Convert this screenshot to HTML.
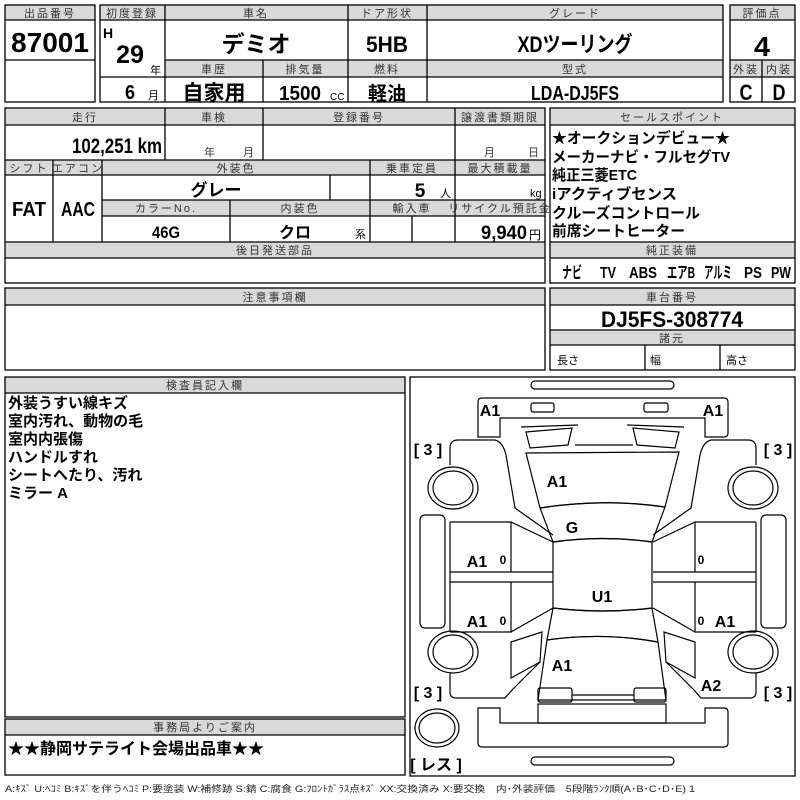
<!DOCTYPE html>
<html><head><meta charset="utf-8"><style>
html,body{margin:0;padding:0;background:#fff}
svg{display:block}
text{font-family:"Liberation Sans","Noto Sans CJK JP",sans-serif;}
.h{font-size:11px;fill:#333;text-anchor:middle;letter-spacing:2px}
.v{font-weight:bold;text-anchor:middle}
.s{font-size:15px;font-weight:bold}
.c{font-size:16px;font-weight:bold;text-anchor:middle}
</style></head><body>
<svg width="800" height="800" viewBox="0 0 800 800" xmlns="http://www.w3.org/2000/svg">
<g fill="#d9d9d9" stroke="none">
<rect x="5" y="5" width="90" height="15"/><rect x="100" y="5" width="623" height="15"/><rect x="730" y="5" width="65" height="15"/>
<rect x="165" y="60" width="558" height="17"/><rect x="730" y="60" width="65" height="17"/>
<rect x="5" y="108" width="540" height="17"/><rect x="5" y="160" width="540" height="15"/><rect x="102" y="200" width="443" height="16"/><rect x="5" y="242" width="540" height="16"/>
<rect x="550" y="108" width="245" height="17"/><rect x="550" y="242" width="245" height="16"/>
<rect x="5" y="288" width="540" height="17"/><rect x="550" y="288" width="245" height="17"/><rect x="550" y="330" width="245" height="15"/>
<rect x="5" y="377" width="400" height="16"/><rect x="5" y="719" width="400" height="16"/>
</g>
<g fill="none" stroke="#000" stroke-width="1.3">
<rect x="5" y="5" width="90" height="97"/><line x1="5" y1="20" x2="95" y2="20"/><line x1="5" y1="60" x2="95" y2="60"/>
<rect x="100" y="5" width="623" height="97"/><line x1="100" y1="20" x2="723" y2="20"/>
<line x1="165" y1="5" x2="165" y2="102"/><line x1="348" y1="5" x2="348" y2="102"/><line x1="427" y1="5" x2="427" y2="102"/>
<line x1="165" y1="60" x2="723" y2="60"/><line x1="165" y1="77" x2="723" y2="77"/><line x1="100" y1="77" x2="165" y2="77"/>
<line x1="263" y1="60" x2="263" y2="102"/>
<rect x="730" y="5" width="65" height="97"/><line x1="730" y1="20" x2="795" y2="20"/><line x1="730" y1="60" x2="795" y2="60"/><line x1="730" y1="77" x2="795" y2="77"/><line x1="762" y1="60" x2="762" y2="102"/>
<rect x="5" y="108" width="540" height="175"/>
<line x1="5" y1="125" x2="545" y2="125"/><line x1="5" y1="160" x2="545" y2="160"/><line x1="5" y1="175" x2="545" y2="175"/>
<line x1="102" y1="200" x2="545" y2="200"/><line x1="102" y1="216" x2="545" y2="216"/><line x1="5" y1="242" x2="545" y2="242"/><line x1="5" y1="258" x2="545" y2="258"/>
<line x1="165" y1="108" x2="165" y2="160"/><line x1="263" y1="108" x2="263" y2="160"/><line x1="455" y1="108" x2="455" y2="242"/>
<line x1="53" y1="160" x2="53" y2="242"/><line x1="102" y1="160" x2="102" y2="242"/><line x1="370" y1="160" x2="370" y2="242"/>
<line x1="330" y1="175" x2="330" y2="200"/><line x1="230" y1="200" x2="230" y2="242"/><line x1="412" y1="216" x2="412" y2="242"/>
<rect x="550" y="108" width="245" height="175"/><line x1="550" y1="125" x2="795" y2="125"/><line x1="550" y1="242" x2="795" y2="242"/><line x1="550" y1="258" x2="795" y2="258"/>
<rect x="5" y="288" width="540" height="82"/><line x1="5" y1="305" x2="545" y2="305"/>
<rect x="550" y="288" width="245" height="82"/><line x1="550" y1="305" x2="795" y2="305"/><line x1="550" y1="330" x2="795" y2="330"/><line x1="550" y1="345" x2="795" y2="345"/>
<line x1="645" y1="345" x2="645" y2="370"/><line x1="720" y1="345" x2="720" y2="370"/>
<rect x="5" y="377" width="400" height="340"/><line x1="5" y1="393" x2="405" y2="393"/>
<rect x="5" y="719" width="400" height="56"/><line x1="5" y1="735" x2="405" y2="735"/>
<rect x="410" y="377" width="385" height="399"/>
</g>
<!-- headers -->
<text class="h" x="50" y="17">出品番号</text><text class="h" x="132" y="17" letter-spacing="0">初度登録</text>
<text class="h" x="256" y="17">車名</text><text class="h" x="387" y="17" letter-spacing="0">ドア形状</text><text class="h" x="575" y="17" letter-spacing="6">グレード</text><text class="h" x="762" y="17" letter-spacing="0">評価点</text>
<text class="h" x="214" y="73">車歴</text><text class="h" x="305" y="73">排気量</text><text class="h" x="387" y="73">燃料</text><text class="h" x="575" y="73">型式</text>
<text class="h" x="746" y="73" letter-spacing="0">外装</text><text class="h" x="779" y="73" letter-spacing="0">内装</text>
<text class="h" x="85" y="121">走行</text><text class="h" x="214" y="121">車検</text><text class="h" x="359" y="121">登録番号</text><text class="h" x="500" y="121" letter-spacing="0" font-size="10">譲渡書類期限</text>
<text class="h" x="29" y="172" letter-spacing="0" font-size="10">シフト</text><text class="h" x="78" y="172" letter-spacing="0" font-size="10">エアコン</text><text class="h" x="236" y="172">外装色</text><text class="h" x="412" y="172" letter-spacing="0">乗車定員</text><text class="h" x="500" y="172" letter-spacing="0" font-size="10">最大積載量</text>
<text class="h" x="166" y="212" letter-spacing="4">カラーNo.</text><text class="h" x="300" y="212">内装色</text><text class="h" x="412" y="212">輸入車</text><text class="h" x="500" y="212" letter-spacing="0" font-size="10">リサイクル預託金</text>
<text class="h" x="275" y="254">後日発送部品</text>
<text class="h" x="672" y="121" letter-spacing="5">セールスポイント</text><text class="h" x="672" y="254">純正装備</text>
<text class="h" x="275" y="301">注意事項欄</text><text class="h" x="672" y="301">車台番号</text><text class="h" x="672" y="342">諸元</text>
<text class="h" x="205" y="389">検査員記入欄</text><text class="h" x="205" y="731">事務局よりご案内</text>
<!-- values -->
<text class="v" x="50" y="52" font-size="28" textLength="78" lengthAdjust="spacingAndGlyphs">87001</text>
<text class="v" x="108" y="38" font-size="14">H</text><text class="v" x="130" y="63" font-size="25" textLength="28" lengthAdjust="spacingAndGlyphs">29</text><text x="150" y="74" font-size="11">年</text>
<text class="v" x="130" y="99" font-size="20" textLength="10" lengthAdjust="spacingAndGlyphs">6</text><text x="148" y="99" font-size="11">月</text>
<text class="v" x="256" y="52" font-size="23">デミオ</text><text class="v" x="387" y="52" font-size="22" textLength="42" lengthAdjust="spacingAndGlyphs">5HB</text><text class="v" x="575" y="52" font-size="22" textLength="115" lengthAdjust="spacingAndGlyphs">XDツーリング</text>
<text class="v" x="762" y="56" font-size="28" textLength="16" lengthAdjust="spacingAndGlyphs">4</text><text class="v" x="746" y="100" font-size="22" textLength="13" lengthAdjust="spacingAndGlyphs">C</text><text class="v" x="779" y="100" font-size="22" textLength="13" lengthAdjust="spacingAndGlyphs">D</text>
<text class="v" x="214" y="100" font-size="21">自家用</text><text class="v" x="300" y="100" font-size="20" textLength="42" lengthAdjust="spacingAndGlyphs">1500</text><text x="330" y="100" font-size="10">CC</text>
<text class="v" x="387" y="100" font-size="19">軽油</text><text class="v" x="575" y="100" font-size="20" textLength="88" lengthAdjust="spacingAndGlyphs">LDA-DJ5FS</text>
<text class="v" x="72" y="153" font-size="21" style="text-anchor:start" textLength="90" lengthAdjust="spacingAndGlyphs">102,251 km</text>
<text x="204" y="156" font-size="11" fill="#333">年</text><text x="243" y="156" font-size="11" fill="#333">月</text>
<text x="484" y="156" font-size="11" fill="#333">月</text><text x="528" y="156" font-size="11" fill="#333">日</text>
<text class="v" x="29" y="216" font-size="20" textLength="34" lengthAdjust="spacingAndGlyphs">FAT</text><text class="v" x="78" y="216" font-size="20" textLength="34" lengthAdjust="spacingAndGlyphs">AAC</text>
<text class="v" x="216" y="196" font-size="17">グレー</text><text class="v" x="420" y="197" font-size="19">5</text><text x="440" y="197" font-size="11">人</text><text x="530" y="197" font-size="11">kg</text>
<text class="v" x="166" y="238" font-size="17" textLength="28" lengthAdjust="spacingAndGlyphs">46G</text><text class="v" x="295" y="238" font-size="16">クロ</text><text x="355" y="238" font-size="11">系</text>
<text class="v" x="481" y="239" font-size="19" style="text-anchor:start" textLength="46" lengthAdjust="spacingAndGlyphs">9,940</text><text x="529" y="239" font-size="12">円</text>
<text x="552" y="143" class="s" textLength="178" lengthAdjust="spacingAndGlyphs">★オークションデビュー★</text><text x="552" y="162" class="s" textLength="178" lengthAdjust="spacingAndGlyphs">メーカーナビ・フルセグTV</text><text x="552" y="180" class="s" textLength="85" lengthAdjust="spacingAndGlyphs">純正三菱ETC</text><text x="552" y="199" class="s" textLength="125" lengthAdjust="spacingAndGlyphs">iアクティブセンス</text><text x="552" y="218" class="s" textLength="148" lengthAdjust="spacingAndGlyphs">クルーズコントロール</text><text x="552" y="236" class="s" textLength="133" lengthAdjust="spacingAndGlyphs">前席シートヒーター</text>
<g class="v" font-size="16"><text class="v" x="572" y="278" textLength="20" lengthAdjust="spacingAndGlyphs">ナビ</text><text class="v" x="608" y="278" textLength="16" lengthAdjust="spacingAndGlyphs">TV</text><text class="v" x="643" y="278" textLength="28" lengthAdjust="spacingAndGlyphs">ABS</text><text class="v" x="681" y="278" textLength="28" lengthAdjust="spacingAndGlyphs">エアB</text><text class="v" x="718" y="278" textLength="28" lengthAdjust="spacingAndGlyphs">アルミ</text><text class="v" x="753" y="278" textLength="18" lengthAdjust="spacingAndGlyphs">PS</text><text class="v" x="781" y="278" textLength="20" lengthAdjust="spacingAndGlyphs">PW</text></g>
<text class="v" x="672" y="327" font-size="22" textLength="142" lengthAdjust="spacingAndGlyphs">DJ5FS-308774</text>
<text x="557" y="364" font-size="11">長さ</text><text x="650" y="364" font-size="11">幅</text><text x="726" y="364" font-size="11">高さ</text>
<g><text x="8" y="408" class="s">外装うすい線キズ</text><text x="8" y="426" class="s">室内汚れ、動物の毛</text><text x="8" y="444" class="s">室内内張傷</text><text x="8" y="462" class="s">ハンドルすれ</text><text x="8" y="480" class="s">シートへたり、汚れ</text><text x="8" y="498" class="s">ミラー A</text></g>
<text x="8" y="754" font-size="16" font-weight="bold">★★静岡サテライト会場出品車★★</text>
<text x="5" y="792" font-size="9" fill="#222" textLength="690" lengthAdjust="spacingAndGlyphs">A:ｷｽﾞ U:ﾍｺﾐ B:ｷｽﾞを伴うﾍｺﾐ P:要塗装 W:補修跡 S:錆 C:腐食 G:ﾌﾛﾝﾄｶﾞﾗｽ点ｷｽﾞ XX:交換済み X:要交換　内･外装評価　5段階ﾗﾝｸ順(A･B･C･D･E) 1</text>
<!-- car diagram -->
<g fill="none" stroke="#000" stroke-width="1.2">
<rect x="531" y="381" width="143" height="8" rx="4"/><rect x="531" y="757" width="143" height="8" rx="4"/>
<path d="M478,437 L478,402 Q478,398 482,398 L724,398 Q728,398 728,402 L728,433 Q728,437 724,437 L705,437 L705,418 L500,418 L500,437 Z"/>
<path d="M478,708 L478,743 Q478,747 482,747 L724,747 Q728,747 728,743 L728,712 Q728,708 724,708 L705,708 L705,723 L500,723 L500,708 Z"/>
<rect x="531" y="403" width="23" height="9" rx="2"/><rect x="644" y="403" width="24" height="9" rx="2"/>
<polygon points="526,432 572,428 568,445 530,448"/><polygon points="633,428 679,432 675,448 637,445"/>
<line x1="521" y1="427" x2="578" y2="425"/><line x1="627" y1="425" x2="684" y2="427"/><line x1="575" y1="445" x2="633" y2="445"/>
<path d="M526,453 L679,452 L665,507 Q603,498 540,508 Z"/>
<path d="M540,508 Q603,498 665,507 L652,542 Q603,535 553,542 Z"/>
<path d="M553,542 Q603,535 652,542 L652,608 Q603,614 553,608 Z"/>
<path d="M553,608 Q603,614 652,608 L658,642 Q603,632 547,640 Z"/>
<path d="M547,640 Q603,632 658,642 L666,700 L538,700 Z"/>
<rect x="538" y="688" width="34" height="14" rx="2"/><rect x="634" y="688" width="32" height="14" rx="2"/>
<line x1="572" y1="695" x2="634" y2="695"/><rect x="538" y="704" width="128" height="19"/>
<g id="side">
<path d="M450,465 L450,448 Q450,440 458,440 L495,440 Q503,442 506,455 L515,508 L553,535"/>
<ellipse cx="453" cy="488" rx="25" ry="21"/><ellipse cx="453" cy="488" rx="20" ry="17"/>
<ellipse cx="453" cy="652" rx="25" ry="21"/><ellipse cx="453" cy="652" rx="20" ry="17"/>
<rect x="420" y="515" width="25" height="113" rx="5"/>
<path d="M450,522 L511,522 L553,542 M450,522 L450,632 M511,522 L511,572 M450,572 L553,572 M450,582 L553,582 M511,582 L511,632 L450,632 M511,632 L553,608"/>
<polygon points="511,642 542,632 540,662 511,678"/>
<path d="M450,673 L450,692 Q450,698 456,698 L505,698 L512,690 L540,662"/>
</g>
<use href="#side" transform="translate(1206,0) scale(-1,1)"/>
<ellipse cx="437" cy="728" rx="22" ry="19"/><ellipse cx="437" cy="728" rx="18" ry="15"/>
</g>
<g class="c">
<text class="c" x="490" y="416">A1</text><text class="c" x="713" y="416">A1</text>
<text class="c" x="428" y="455" font-weight="normal">[ 3 ]</text><text class="c" x="778" y="455" font-weight="normal">[ 3 ]</text>
<text class="c" x="428" y="698" font-weight="normal">[ 3 ]</text><text class="c" x="778" y="698" font-weight="normal">[ 3 ]</text>
<text class="c" x="557" y="487">A1</text><text class="c" x="572" y="533">G</text>
<text class="c" x="477" y="567">A1</text><text class="c" x="477" y="627">A1</text><text class="c" x="725" y="627">A1</text>
<text x="503" y="564" font-size="12" text-anchor="middle">0</text><text x="503" y="625" font-size="12" text-anchor="middle">0</text>
<text x="701" y="564" font-size="12" text-anchor="middle">0</text><text x="701" y="625" font-size="12" text-anchor="middle">0</text>
<text class="c" x="602" y="602">U1</text><text class="c" x="562" y="671">A1</text><text class="c" x="711" y="691">A2</text>
<text class="c" x="436" y="770" font-weight="normal">[ レス ]</text>
</g>
</svg>
</body></html>
